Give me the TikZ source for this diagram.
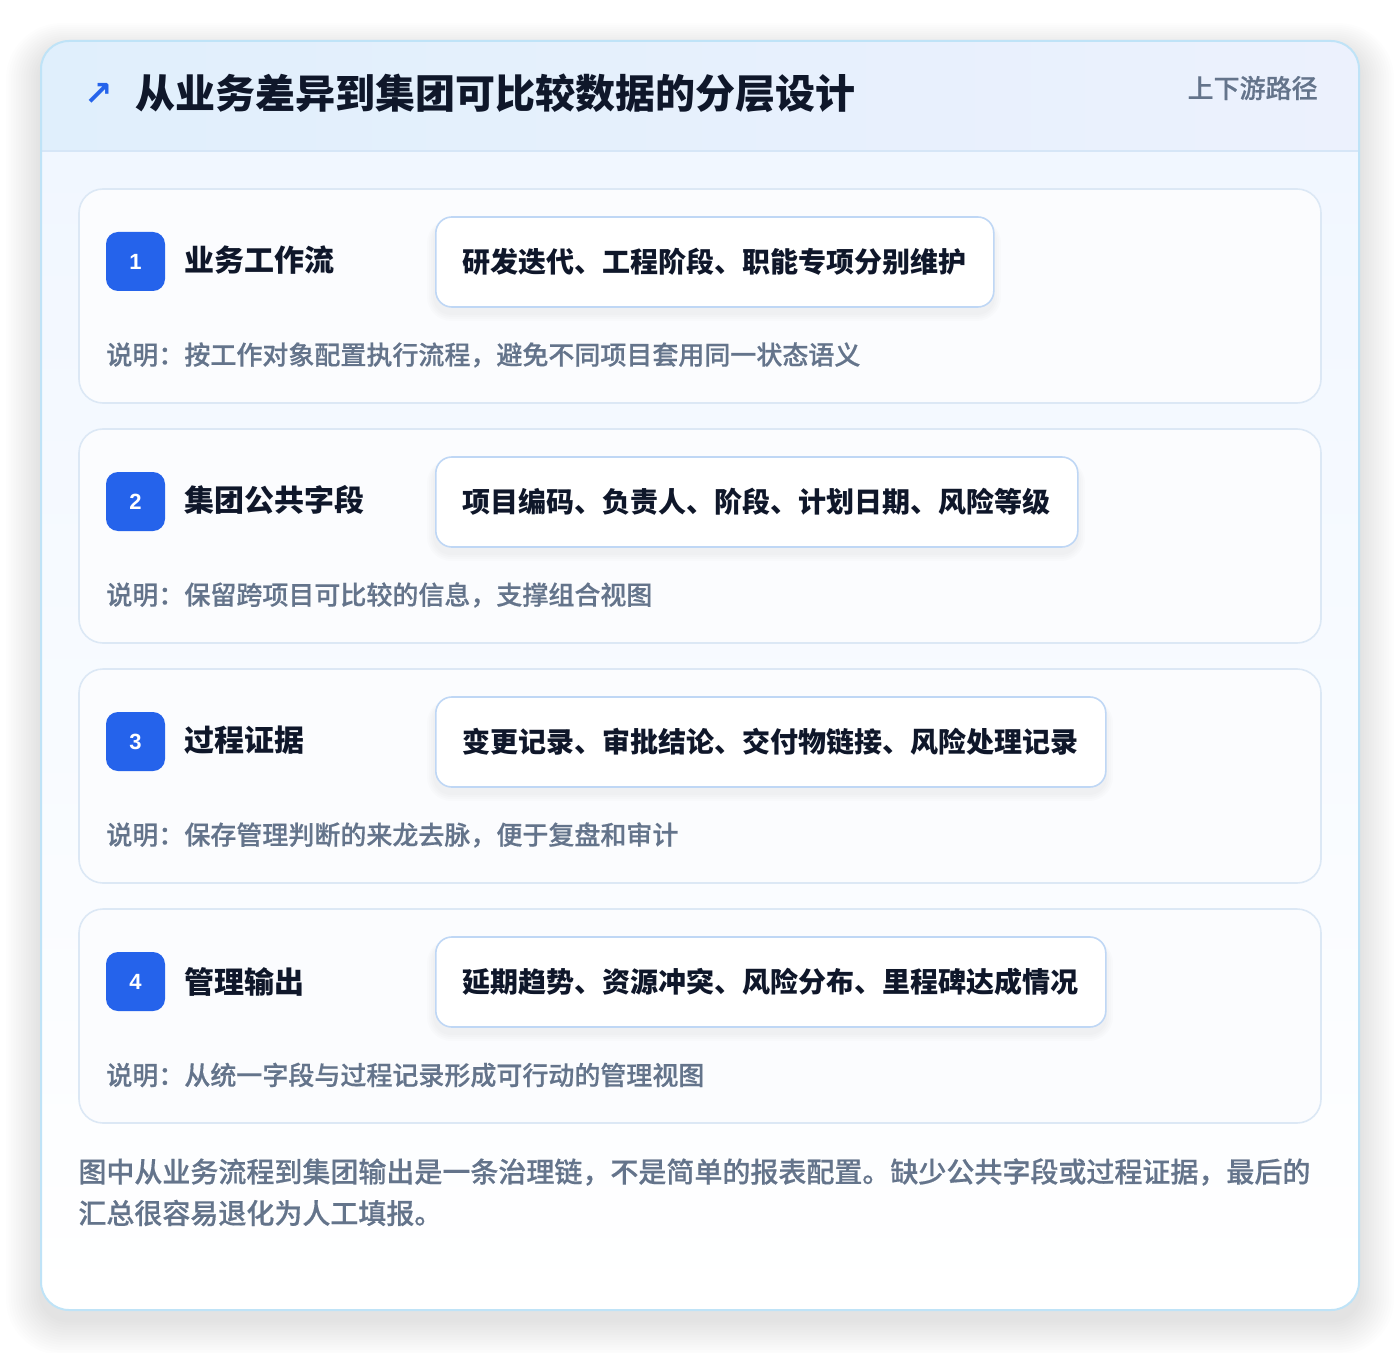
\documentclass[tikz,border=0pt]{standalone}
\usepackage{fontspec}
\newfontfamily\cjk{Noto Sans CJK SC}
\newfontfamily\cjkmed{Noto Sans CJK SC Medium}[FakeBold=0.5]
\newfontfamily\sym{DejaVu Sans}
\newfontfamily\num{Liberation Sans}
\usetikzlibrary{positioning}

\definecolor{ink}{HTML}{0F172A}
\definecolor{muted}{HTML}{64748B}
\definecolor{accent}{HTML}{2563EB}
\definecolor{cardline}{HTML}{BFE3F7}
\definecolor{headl}{HTML}{E0EFFC}
\definecolor{headr}{HTML}{ECF1FD}
\definecolor{headsep}{HTML}{D6E6F7}
\definecolor{bodytop}{HTML}{F1F7FF}
\definecolor{panelline}{HTML}{DCE8F5}
\definecolor{panelfill}{HTML}{FBFCFE}
\definecolor{pillline}{HTML}{BFD7F5}

\begin{document}
\begin{tikzpicture}[
  x=0.5pt, y=-0.5pt,
  panel/.style={draw=panelline, fill=panelfill, line width=0.8pt, rounded corners=12pt},
  badge/.style={fill=accent, rounded corners=6pt, minimum size=29.5pt, inner sep=0pt,
    text=white, font=\num\bfseries\fontsize{11}{11}\selectfont},
  tag/.style={anchor=west, inner sep=0pt, text=ink, font=\cjk\bfseries\fontsize{15}{15}\selectfont},
  pill/.style={anchor=west, draw=pillline, fill=white, line width=0.8pt, rounded corners=8pt,
    minimum height=45pt, inner xsep=13.5pt, text=ink, font=\cjk\bfseries\fontsize{14}{14}\selectfont},
  haze/.style={fill=black, opacity=0.012},
  note/.style={anchor=west, inner sep=0pt, text=muted, font=\cjkmed\fontsize{13}{13}\selectfont},
  foot/.style={anchor=west, inner sep=0pt, text=muted, font=\cjkmed\fontsize{14}{14}\selectfont}
]
\fill[white] (0,0) rectangle (1400,1352);
\useasboundingbox (0,0) rectangle (1400,1352);

% Card with a soft shadow
\foreach \s in {1,...,14}
  \fill[black, opacity=0.007, rounded corners=14pt+\s pt]
    (41-2.5*\s,41-2*\s+10) rectangle (1359+2.5*\s,1310+2.5*\s+10);
\fill[white, rounded corners=14pt] (41,41) rectangle (1359,1310);
\begin{scope}
  \clip[rounded corners=14pt] (41,41) rectangle (1359,1310);
  \shade[top color=bodytop, bottom color=white] (41,151) rectangle (1359,1310);
  \shade[left color=headl, right color=headr] (41,41) rectangle (1359,151);
  \draw[headsep, line width=0.8pt] (41,151) -- (1359,151);
\end{scope}
\draw[cardline, line width=1pt, rounded corners=14pt] (41,41) rectangle (1359,1310);

% Header
\node[anchor=west, inner sep=0pt, text=ink, font=\cjk\bfseries\fontsize{20}{20}\selectfont]
  (title) at (135,93) {从业务差异到集团可比较数据的分层设计};
\node[inner sep=0pt, text=accent, font=\sym\bfseries\fontsize{17}{17}\selectfont]
  (icon) at (99,94) {↗};
\node[anchor=east, inner sep=0pt, text=muted, font=\cjkmed\fontsize{13}{13}\selectfont]
  (route) at (1318,88) {上下游路径};

% Row 1
\draw[panel] (79,189) rectangle (1321,403);
\node[badge] (b1) at (135.5,261.5) {1};
\node[tag] (t1) at (184,260) {业务工作流};
\foreach \s in {1,...,4}
  \fill[haze, rounded corners=8pt+\s pt] (435-2*\s,217-\s+6) rectangle (993+2*\s,307+2*\s+6);
\node[pill] (p1) at (435,262) {研发迭代、工程阶段、职能专项分别维护};
\node[note] (n1) at (106,355) {说明：按工作对象配置执行流程，避免不同项目套用同一状态语义};

% Row 2
\draw[panel] (79,429) rectangle (1321,643);
\node[badge] (b2) at (135.5,501.5) {2};
\node[tag] (t2) at (184,500) {集团公共字段};
\foreach \s in {1,...,4}
  \fill[haze, rounded corners=8pt+\s pt] (435-2*\s,457-\s+6) rectangle (1077+2*\s,547+2*\s+6);
\node[pill] (p2) at (435,502) {项目编码、负责人、阶段、计划日期、风险等级};
\node[note] (n2) at (106,595) {说明：保留跨项目可比较的信息，支撑组合视图};

% Row 3
\draw[panel] (79,669) rectangle (1321,883);
\node[badge] (b3) at (135.5,741.5) {3};
\node[tag] (t3) at (184,740) {过程证据};
\foreach \s in {1,...,4}
  \fill[haze, rounded corners=8pt+\s pt] (435-2*\s,697-\s+6) rectangle (1105+2*\s,787+2*\s+6);
\node[pill] (p3) at (435,742) {变更记录、审批结论、交付物链接、风险处理记录};
\node[note] (n3) at (106,835) {说明：保存管理判断的来龙去脉，便于复盘和审计};

% Row 4
\draw[panel] (79,909) rectangle (1321,1123);
\node[badge] (b4) at (135.5,981.5) {4};
\node[tag] (t4) at (184,982) {管理输出};
\foreach \s in {1,...,4}
  \fill[haze, rounded corners=8pt+\s pt] (435-2*\s,937-\s+6) rectangle (1105+2*\s,1027+2*\s+6);
\node[pill] (p4) at (435,982) {延期趋势、资源冲突、风险分布、里程碑达成情况};
\node[note] (n4) at (106,1075) {说明：从统一字段与过程记录形成可行动的管理视图};

% Footer
\node[foot] (f1) at (78,1172) {图中从业务流程到集团输出是一条治理链，不是简单的报表配置。缺少公共字段或过程证据，最后的};
\node[foot] (f2) at (78,1213) {汇总很容易退化为人工填报。};
\end{tikzpicture}
\end{document}
